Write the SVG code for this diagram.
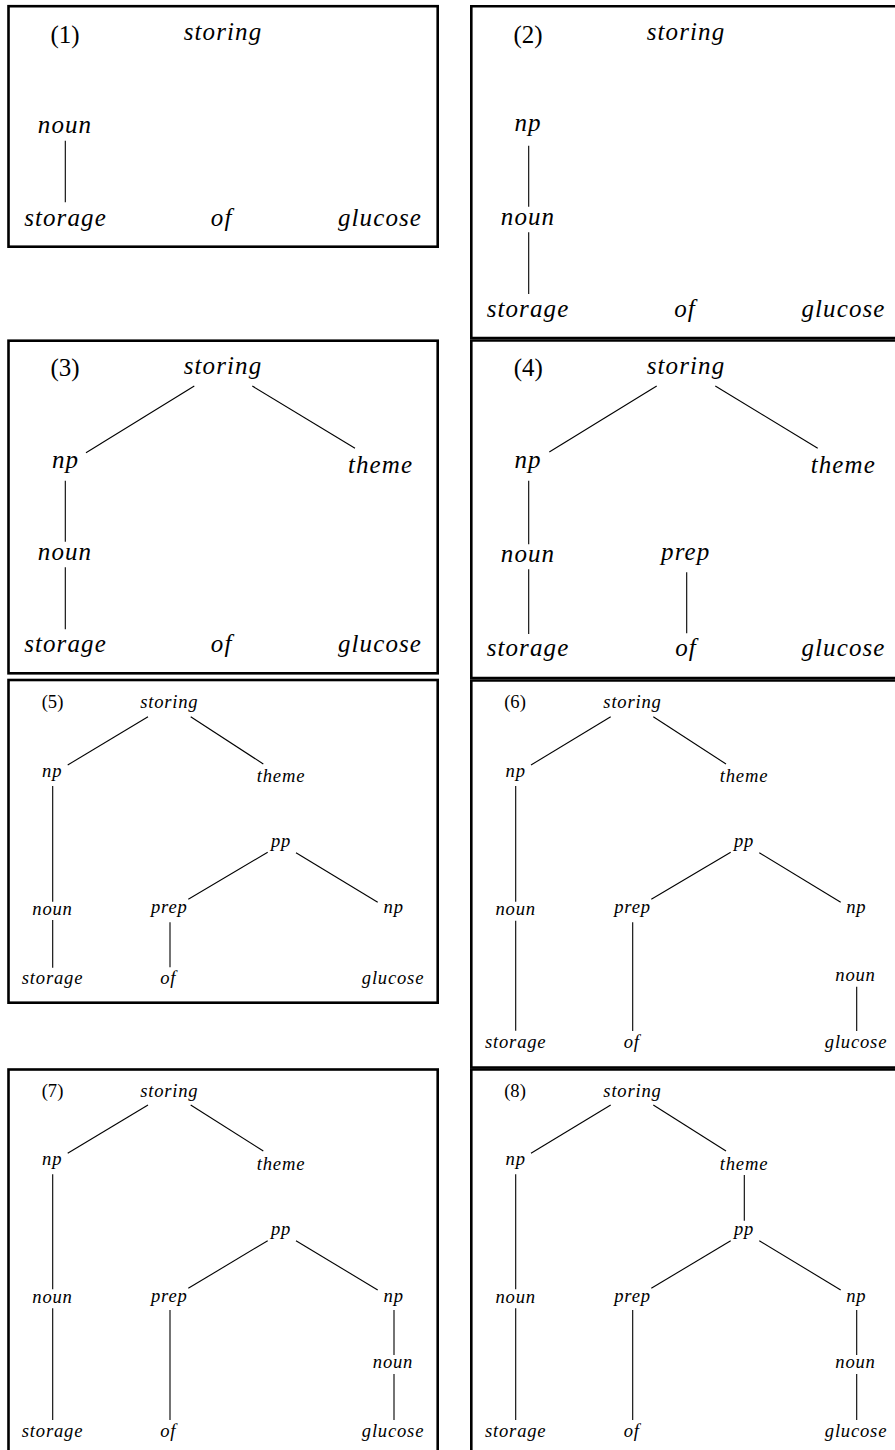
<svg xmlns="http://www.w3.org/2000/svg" width="895" height="1450" viewBox="0 0 895 1450">
  <style>
    .frame { fill: none; stroke: #000; stroke-width: 2.6; }
    .edge { stroke: #000; stroke-width: 1.1; fill: none; }
    text { fill: #000; text-anchor: middle; }
    .lg { font-family: "Liberation Serif", "Times New Roman", serif; font-style: italic; font-size: 25px; letter-spacing: 1.1px; }
    .sm { font-family: "Liberation Serif", "Times New Roman", serif; font-style: italic; font-size: 18.6px; letter-spacing: 0.8px; }
    .numlg { font-family: "Liberation Serif", "Times New Roman", serif; font-size: 25px; }
    .numsm { font-family: "Liberation Serif", "Times New Roman", serif; font-size: 18.6px; }
  </style>
  <rect x="0" y="0" width="895" height="1450" fill="#fff"/>

  <!-- Step 1 -->
  <g id="step1">
    <rect class="frame" x="8.5" y="6.2" width="429.2" height="240.5"/>
    <g id="step1-edges">
      <line class="edge" x1="65.3" y1="140.7" x2="65.3" y2="202.3"/>
    </g>
    <g id="s1-num"><text class="numlg" x="65" y="42.5">(1)</text></g>
    <g id="s1-storing"><text class="lg" x="223" y="40">storing</text></g>
    <g id="s1-noun"><text class="lg" x="65" y="133">noun</text></g>
    <g id="s1-storage"><text class="lg" x="65.5" y="226">storage</text></g>
    <g id="s1-of"><text class="lg" x="221.7" y="226">of</text></g>
    <g id="s1-glucose"><text class="lg" x="380" y="226">glucose</text></g>
  </g>

  <!-- Step 2 -->
  <g id="step2">
    <path class="frame" d="M900,6.2 H471.3 V338 H900"/>
    <g id="step2-edges">
      <line class="edge" x1="528.7" y1="145.7" x2="528.7" y2="206.7"/>
      <line class="edge" x1="528.7" y1="232.3" x2="528.7" y2="294"/>
    </g>
    <g id="s2-num"><text class="numlg" x="528" y="42.5">(2)</text></g>
    <g id="s2-storing"><text class="lg" x="686" y="40">storing</text></g>
    <g id="s2-np"><text class="lg" x="528" y="131">np</text></g>
    <g id="s2-noun"><text class="lg" x="528" y="225">noun</text></g>
    <g id="s2-storage"><text class="lg" x="528" y="316.7">storage</text></g>
    <g id="s2-of"><text class="lg" x="685" y="316.7">of</text></g>
    <g id="s2-glucose"><text class="lg" x="843.5" y="316.7">glucose</text></g>
  </g>

  <!-- Step 3 -->
  <g id="step3">
    <rect class="frame" x="8.5" y="340.7" width="429.2" height="332.6"/>
    <g id="step3-edges">
      <line class="edge" x1="194.3" y1="386" x2="86" y2="452.7"/>
      <line class="edge" x1="252.3" y1="386" x2="355" y2="448.3"/>
      <line class="edge" x1="65.3" y1="480.7" x2="65.3" y2="541.7"/>
      <line class="edge" x1="65.3" y1="567.3" x2="65.3" y2="629.3"/>
    </g>
    <g id="s3-num"><text class="numlg" x="65" y="376">(3)</text></g>
    <g id="s3-storing"><text class="lg" x="223" y="374">storing</text></g>
    <g id="s3-np"><text class="lg" x="65.5" y="468.3">np</text></g>
    <g id="s3-theme"><text class="lg" x="380.5" y="473.3">theme</text></g>
    <g id="s3-noun"><text class="lg" x="65" y="560">noun</text></g>
    <g id="s3-storage"><text class="lg" x="65.5" y="651.7">storage</text></g>
    <g id="s3-of"><text class="lg" x="221.7" y="651.7">of</text></g>
    <g id="s3-glucose"><text class="lg" x="380" y="651.7">glucose</text></g>
  </g>

  <!-- Step 4 -->
  <g id="step4">
    <path class="frame" d="M900,340.5 H471.3 V678 H900"/>
    <g id="step4-edges">
      <line class="edge" x1="656.7" y1="386" x2="549.3" y2="452"/>
      <line class="edge" x1="715.3" y1="386" x2="817.7" y2="448.3"/>
      <line class="edge" x1="528.7" y1="480.7" x2="528.7" y2="544.3"/>
      <line class="edge" x1="528.7" y1="569.3" x2="528.7" y2="634"/>
      <line class="edge" x1="686.7" y1="572.3" x2="686.7" y2="633.3"/>
    </g>
    <g id="s4-num"><text class="numlg" x="528.3" y="376">(4)</text></g>
    <g id="s4-storing"><text class="lg" x="686" y="374">storing</text></g>
    <g id="s4-np"><text class="lg" x="528" y="468.3">np</text></g>
    <g id="s4-theme"><text class="lg" x="843.3" y="473.3">theme</text></g>
    <g id="s4-noun"><text class="lg" x="528" y="562.3">noun</text></g>
    <g id="s4-prep"><text class="lg" x="685.7" y="560">prep</text></g>
    <g id="s4-storage"><text class="lg" x="528" y="656">storage</text></g>
    <g id="s4-of"><text class="lg" x="686" y="656">of</text></g>
    <g id="s4-glucose"><text class="lg" x="843.5" y="656">glucose</text></g>
  </g>

  <!-- Step 5 -->
  <g id="step5">
    <rect class="frame" x="8.5" y="680" width="429.2" height="322.7"/>
    <g id="step5-edges">
      <line class="edge" x1="148" y1="716.7" x2="67.7" y2="765"/>
      <line class="edge" x1="190.7" y1="716.7" x2="263.3" y2="764"/>
      <line class="edge" x1="52.7" y1="786" x2="52.7" y2="901.7"/>
      <line class="edge" x1="267.7" y1="852.3" x2="188.3" y2="899.3"/>
      <line class="edge" x1="296" y1="852.7" x2="377.7" y2="902.3"/>
      <line class="edge" x1="52.7" y1="920" x2="52.7" y2="967.7"/>
      <line class="edge" x1="170" y1="922.3" x2="170" y2="967.3"/>
    </g>
    <g id="s5-num"><text class="numsm" x="52.5" y="708.3">(5)</text></g>
    <g id="s5-storing"><text class="sm" x="169.3" y="708.3">storing</text></g>
    <g id="s5-np"><text class="sm" x="52.2" y="776.7">np</text></g>
    <g id="s5-theme"><text class="sm" x="281" y="781.7">theme</text></g>
    <g id="s5-pp"><text class="sm" x="281" y="846.7">pp</text></g>
    <g id="s5-noun"><text class="sm" x="52.5" y="915">noun</text></g>
    <g id="s5-prep"><text class="sm" x="169.3" y="913.3">prep</text></g>
    <g id="s5-np2"><text class="sm" x="393.7" y="912.7">np</text></g>
    <g id="s5-storage"><text class="sm" x="52.5" y="984.3">storage</text></g>
    <g id="s5-of"><text class="sm" x="168.3" y="984.3">of</text></g>
    <g id="s5-glucose"><text class="sm" x="393" y="984.3">glucose</text></g>
  </g>

  <!-- Step 6 -->
  <g id="step6">
    <path class="frame" d="M900,680.5 H471.3 V1067.5 H900"/>
    <g id="step6-edges">
      <line class="edge" x1="610.7" y1="716.7" x2="531" y2="765"/>
      <line class="edge" x1="653.3" y1="716.7" x2="726" y2="764"/>
      <line class="edge" x1="515.7" y1="786" x2="515.7" y2="901.7"/>
      <line class="edge" x1="730.7" y1="852.3" x2="651.3" y2="899.3"/>
      <line class="edge" x1="759.3" y1="852.7" x2="840.7" y2="902.3"/>
      <line class="edge" x1="515.7" y1="920.7" x2="515.7" y2="1030.7"/>
      <line class="edge" x1="632.7" y1="922.3" x2="632.7" y2="1031"/>
      <line class="edge" x1="856.7" y1="986.7" x2="856.7" y2="1031"/>
    </g>
    <g id="s6-num"><text class="numsm" x="515" y="708.3">(6)</text></g>
    <g id="s6-storing"><text class="sm" x="632.5" y="708.3">storing</text></g>
    <g id="s6-np"><text class="sm" x="515.7" y="776.7">np</text></g>
    <g id="s6-theme"><text class="sm" x="744" y="781.7">theme</text></g>
    <g id="s6-pp"><text class="sm" x="744" y="846.7">pp</text></g>
    <g id="s6-noun"><text class="sm" x="515.7" y="915">noun</text></g>
    <g id="s6-prep"><text class="sm" x="632.5" y="913.3">prep</text></g>
    <g id="s6-np2"><text class="sm" x="856.3" y="912.7">np</text></g>
    <g id="s6-noun2"><text class="sm" x="855.5" y="981">noun</text></g>
    <g id="s6-storage"><text class="sm" x="515.7" y="1048.3">storage</text></g>
    <g id="s6-of"><text class="sm" x="631.7" y="1048.3">of</text></g>
    <g id="s6-glucose"><text class="sm" x="856" y="1048.3">glucose</text></g>
  </g>

  <!-- Step 7 -->
  <g id="step7">
    <rect class="frame" x="8.5" y="1069.5" width="429.2" height="400"/>
    <g id="step7-edges">
      <line class="edge" x1="148" y1="1105" x2="67.7" y2="1153.3"/>
      <line class="edge" x1="190.7" y1="1105" x2="263.3" y2="1151"/>
      <line class="edge" x1="52.7" y1="1174.3" x2="52.7" y2="1289.3"/>
      <line class="edge" x1="267.7" y1="1240.7" x2="188.3" y2="1288.3"/>
      <line class="edge" x1="296" y1="1240.7" x2="377.7" y2="1290"/>
      <line class="edge" x1="52.7" y1="1308.3" x2="52.7" y2="1420"/>
      <line class="edge" x1="170" y1="1310" x2="170" y2="1420"/>
      <line class="edge" x1="394" y1="1310" x2="394" y2="1355"/>
      <line class="edge" x1="394" y1="1374" x2="394" y2="1420"/>
    </g>
    <g id="s7-num"><text class="numsm" x="52.5" y="1096.7">(7)</text></g>
    <g id="s7-storing"><text class="sm" x="169.3" y="1096.7">storing</text></g>
    <g id="s7-np"><text class="sm" x="52.2" y="1165">np</text></g>
    <g id="s7-theme"><text class="sm" x="281" y="1170">theme</text></g>
    <g id="s7-pp"><text class="sm" x="281" y="1235">pp</text></g>
    <g id="s7-noun"><text class="sm" x="52.5" y="1302.7">noun</text></g>
    <g id="s7-prep"><text class="sm" x="169.3" y="1301.7">prep</text></g>
    <g id="s7-np2"><text class="sm" x="393.7" y="1301.7">np</text></g>
    <g id="s7-noun2"><text class="sm" x="393" y="1368.3">noun</text></g>
    <g id="s7-storage"><text class="sm" x="52.5" y="1436.7">storage</text></g>
    <g id="s7-of"><text class="sm" x="168.3" y="1436.7">of</text></g>
    <g id="s7-glucose"><text class="sm" x="393" y="1436.7">glucose</text></g>
  </g>

  <!-- Step 8 -->
  <g id="step8">
    <path class="frame" d="M900,1069.5 H471.3 V1460"/>
    <g id="step8-edges">
      <line class="edge" x1="610.7" y1="1105" x2="531" y2="1153.3"/>
      <line class="edge" x1="653.3" y1="1105" x2="726" y2="1151"/>
      <line class="edge" x1="744.3" y1="1175" x2="744.3" y2="1220.7"/>
      <line class="edge" x1="515.7" y1="1174.3" x2="515.7" y2="1289.3"/>
      <line class="edge" x1="730.7" y1="1240.7" x2="651.3" y2="1288.3"/>
      <line class="edge" x1="759.3" y1="1240.7" x2="840.7" y2="1290"/>
      <line class="edge" x1="515.7" y1="1308.3" x2="515.7" y2="1420"/>
      <line class="edge" x1="632.7" y1="1310" x2="632.7" y2="1420"/>
      <line class="edge" x1="856.7" y1="1310" x2="856.7" y2="1355"/>
      <line class="edge" x1="856.7" y1="1374" x2="856.7" y2="1420"/>
    </g>
    <g id="s8-num"><text class="numsm" x="515" y="1096.7">(8)</text></g>
    <g id="s8-storing"><text class="sm" x="632.5" y="1096.7">storing</text></g>
    <g id="s8-np"><text class="sm" x="515.7" y="1165">np</text></g>
    <g id="s8-theme"><text class="sm" x="744" y="1170">theme</text></g>
    <g id="s8-pp"><text class="sm" x="744" y="1235">pp</text></g>
    <g id="s8-noun"><text class="sm" x="515.7" y="1302.7">noun</text></g>
    <g id="s8-prep"><text class="sm" x="632.5" y="1301.7">prep</text></g>
    <g id="s8-np2"><text class="sm" x="856.3" y="1301.7">np</text></g>
    <g id="s8-noun2"><text class="sm" x="855.5" y="1368.3">noun</text></g>
    <g id="s8-storage"><text class="sm" x="515.7" y="1436.7">storage</text></g>
    <g id="s8-of"><text class="sm" x="631.7" y="1436.7">of</text></g>
    <g id="s8-glucose"><text class="sm" x="856" y="1436.7">glucose</text></g>
  </g>
</svg>
